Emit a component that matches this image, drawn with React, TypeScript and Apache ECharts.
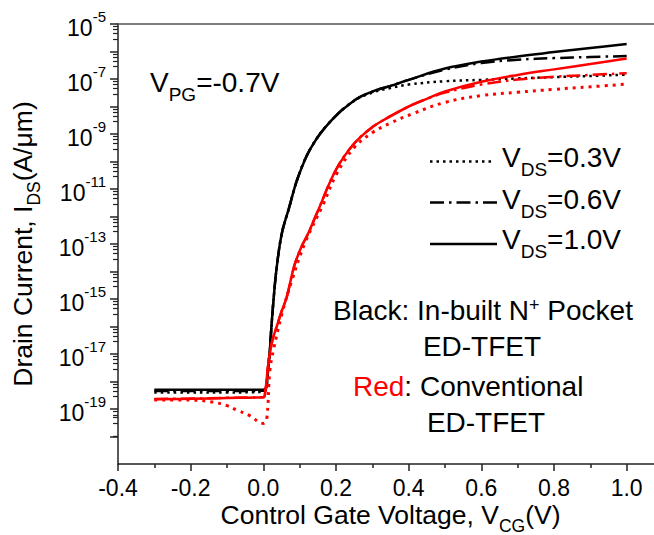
import React, { useEffect, useRef } from 'react';
import * as echarts from 'echarts';

// Control gate voltage (V) grid for the in-built N+ pocket ED-TFET (black)
const blackV = [-0.3, -0.2, -0.1, 0.0, 0.008, 0.014, 0.018, 0.021, 0.028, 0.037, 0.051, 0.07, 0.096, 0.133, 0.188, 0.25, 0.3, 0.35, 0.4, 0.5, 0.6, 0.7, 0.8, 0.9, 1.0];
const blackI10 = [5.0e-19, 5.0e-19, 5.0e-19, 5.0e-19, 6.3e-19, 4.0e-18, 1.41e-17, 5.6e-17, 9.1e-16, 1.48e-14, 2.45e-13, 1.9e-12, 2.8e-11, 3.5e-10, 3.2e-9, 1.66e-8, 3.5e-8, 5.6e-8, 9.3e-8, 2.4e-7, 4.3e-7, 6.6e-7, 9.5e-7, 1.35e-6, 1.86e-6];
const blackI06 = [4.5e-19, 4.5e-19, 4.5e-19, 4.6e-19, 6.0e-19, 4.0e-18, 1.41e-17, 5.6e-17, 9.1e-16, 1.48e-14, 2.45e-13, 1.9e-12, 2.8e-11, 3.5e-10, 3.2e-9, 1.66e-8, 3.5e-8, 5.6e-8, 9.3e-8, 2.2e-7, 3.8e-7, 5.0e-7, 5.75e-7, 6.3e-7, 6.8e-7];
const blackI03 = [4.0e-19, 4.0e-19, 4.0e-19, 4.2e-19, 5.6e-19, 4.0e-18, 1.41e-17, 5.6e-17, 9.1e-16, 1.48e-14, 2.45e-13, 1.9e-12, 2.8e-11, 3.5e-10, 3.2e-9, 1.6e-8, 3.2e-8, 4.7e-8, 6.3e-8, 8.3e-8, 9.3e-8, 1.05e-7, 1.17e-7, 1.29e-7, 1.45e-7];

// Conventional ED-TFET (red)
const redV = [-0.3, -0.2, -0.1, 0.0, 0.005, 0.014, 0.025, 0.037, 0.05, 0.064, 0.085, 0.105, 0.124, 0.15, 0.2, 0.25, 0.3, 0.344, 0.4, 0.45, 0.5, 0.6, 0.7, 0.8, 0.9, 1.0];
const redI10 = [2.24e-19, 2.34e-19, 2.5e-19, 2.7e-19, 4.0e-19, 4.6e-18, 3.2e-17, 1.0e-16, 3.5e-16, 1.12e-15, 1.58e-14, 7.9e-14, 2.5e-13, 1.58e-12, 5.0e-11, 4.5e-10, 1.78e-9, 4.0e-9, 1.0e-8, 1.9e-8, 3.5e-8, 7.9e-8, 1.41e-7, 2.24e-7, 3.5e-7, 5.6e-7];
const redI06 = [2.3e-19, 2.4e-19, 2.55e-19, 2.7e-19, 4.0e-19, 4.6e-18, 3.2e-17, 1.0e-16, 3.5e-16, 1.12e-15, 1.58e-14, 7.9e-14, 2.5e-13, 1.58e-12, 5.0e-11, 4.5e-10, 1.78e-9, 4.0e-9, 1.0e-8, 1.9e-8, 3.2e-8, 6.3e-8, 9.5e-8, 1.2e-7, 1.41e-7, 1.62e-7];
const redV03 = [-0.3, -0.2, -0.147, -0.1, -0.073, -0.04, 0.0, 0.009, 0.018, 0.028, 0.051, 0.078, 0.115, 0.165, 0.2, 0.25, 0.3, 0.35, 0.413, 0.5, 0.6, 0.7, 0.8, 0.9, 1.0];
const redI03 = [2.14e-19, 2.1e-19, 1.86e-19, 1.32e-19, 9.1e-20, 6.0e-20, 3.0e-20, 4.0e-20, 2.5e-18, 1.41e-17, 2.8e-16, 4.5e-15, 1.12e-13, 2.8e-12, 3.2e-11, 3.2e-10, 1.12e-9, 2.5e-9, 5.6e-9, 1.41e-8, 2.5e-8, 3.3e-8, 4.2e-8, 5.2e-8, 6.5e-8];

const xTicks = { min: -0.4, max: 1.1, interval: 0.2 };
const yRange = { min: 1e-21, max: 1e-5 };
const legendLabels = ['0.3V', '0.6V', '1.0V'];

const FONT = '"Liberation Sans", Arial, Helvetica, sans-serif';
const DOT_B = [2.5, 4];
const DOT_R = [3, 5];
const DASHDOT = [14, 5, 2.5, 5];

export default function App() {
  const ref = useRef<HTMLDivElement>(null);
  useEffect(() => {
    document.body.style.margin = '0';
    const chart = echarts.init(ref.current as HTMLDivElement, null, { renderer: 'svg' });
    const pairs = (xs: number[], ys: number[]) => xs.map((x, i) => [x, ys[i]]);
    const mk = (name: string, xs: number[], ys: number[], color: string, type: any, width: number, z: number) => ({
      name,
      type: 'line',
      data: pairs(xs, ys),
      showSymbol: false,
      symbol: 'none',
      smooth: 0.4,
      lineStyle: { color, width, type },
      z,
    });
    const mainRich = {
      m: { fontSize: 28, lineHeight: 36, verticalAlign: 'top', fontFamily: FONT, fill: '#000' },
      s: { fontSize: 19, lineHeight: 19, verticalAlign: 'bottom', fontFamily: FONT, fill: '#000' },
      p: { fontSize: 18, lineHeight: 26, verticalAlign: 'top', fontFamily: FONT, fill: '#000' },
      r: { fontSize: 28, lineHeight: 36, verticalAlign: 'top', fontFamily: FONT, fill: '#ff0000' },
    };
    const txt = (x: number, y: number, text: string, align: string) => ({
      type: 'text',
      x,
      y,
      style: { text, rich: mainRich, align, verticalAlign: 'middle', font: `28px ${FONT}` },
    });
    const legLine = (y: number, x2: number, dash: any) => ({
      type: 'line',
      shape: { x1: 430, y1: y, x2, y2: y },
      style: { stroke: '#000', lineWidth: 2.5, lineDash: dash },
    });
    const nameRich = {
      m: { fontSize: 26.5, lineHeight: 34, verticalAlign: 'top', fontFamily: FONT, color: '#000' },
      s: { fontSize: 17.5, lineHeight: 17.5, verticalAlign: 'bottom', fontFamily: FONT, color: '#000' },
    };
    chart.setOption({
      animation: false,
      backgroundColor: '#fff',
      grid: { left: 118, top: 24, width: 545, height: 440, containLabel: false, outerBoundsMode: 'none' },
      xAxis: [
        {
          type: 'value',
          min: xTicks.min,
          max: xTicks.max,
          interval: xTicks.interval,
          name: '{m|Control Gate Voltage, V}{s|CG}{m|(V)}',
          nameLocation: 'middle',
          nameGap: 37,
          nameMoveOverlap: false,
          nameTextStyle: { rich: nameRich },
          axisLine: { show: true, onZero: false, lineStyle: { color: '#222', width: 1.5 } },
          axisTick: { show: true, inside: false, length: 7, lineStyle: { color: '#222', width: 1.5 } },
          minorTick: { show: true, splitNumber: 2, length: 4, lineStyle: { color: '#222', width: 1.5 } },
          axisLabel: {
            margin: 12,
            fontSize: 23,
            fontFamily: FONT,
            color: '#000',
            showMaxLabel: false,
            formatter: (v: number) => v.toFixed(1),
          },
          splitLine: { show: false },
        },
        {
          type: 'value',
          position: 'top',
          min: xTicks.min,
          max: xTicks.max,
          axisLine: { show: true, onZero: false, lineStyle: { color: '#555', width: 1.5 } },
          axisTick: { show: false },
          axisLabel: { show: false },
          splitLine: { show: false },
        },
      ],
      yAxis: {
        type: 'log',
        logBase: 10,
        min: yRange.min,
        max: yRange.max,
        interval: 1,
        name: '{m|Drain Current, I}{s|DS}{m|(A/μm)}',
        nameLocation: 'middle',
        nameGap: 75,
        nameMoveOverlap: false,
        nameTextStyle: { rich: nameRich },
        axisLine: { show: true, onZero: false, lineStyle: { color: '#222', width: 1.5 } },
        axisTick: { show: true, inside: false, length: 8, lineStyle: { color: '#222', width: 1.5 } },
        minorTick: { show: true, splitNumber: 5, length: 5, lineStyle: { color: '#222', width: 1.2 } },
        axisLabel: {
          margin: 12,
          formatter: (v: number) => {
            const e = Math.round(Math.log10(v));
            if (e % 2 === 0) return '';
            return `{b|10}{s|${e}}`;
          },
          rich: {
            b: { fontSize: 23, lineHeight: 30, verticalAlign: 'bottom', fontFamily: FONT, color: '#000' },
            s: { fontSize: 15, lineHeight: 18, verticalAlign: 'top', fontFamily: FONT, color: '#000' },
          },
        },
        splitLine: { show: false },
      },
      series: [
        mk('Black VDS=0.3V', blackV, blackI03, '#000', DOT_B, 2.5, 3),
        mk('Black VDS=0.6V', blackV, blackI06, '#000', DASHDOT, 2.5, 3),
        mk('Black VDS=1.0V', blackV, blackI10, '#000', 'solid', 2.5, 3),
        mk('Red VDS=0.3V', redV03, redI03, '#ff0000', DOT_R, 3, 4),
        mk('Red VDS=0.6V', redV, redI06, '#ff0000', DASHDOT, 2.5, 4),
        mk('Red VDS=1.0V', redV, redI10, '#ff0000', 'solid', 2.5, 5),
      ],
      graphic: [
        txt(150, 86, '{m|V}{s|PG}{m|=-0.7V}', 'left'),
        legLine(161.5, 493, DOT_B),
        legLine(202.5, 497, DASHDOT),
        legLine(244, 497, null),
        txt(502, 161, `{m|V}{s|DS}{m|=${legendLabels[0]}}`, 'left'),
        txt(502, 203, `{m|V}{s|DS}{m|=${legendLabels[1]}}`, 'left'),
        txt(502, 243, `{m|V}{s|DS}{m|=${legendLabels[2]}}`, 'left'),
        txt(333, 314, '{m|Black: In-built N}{p|+}{m| Pocket}', 'left'),
        txt(482, 350, '{m|ED-TFET}', 'center'),
        txt(353, 390, '{r|Red}{m|: Conventional}', 'left'),
        txt(486, 426, '{m|ED-TFET}', 'center'),
      ],
    });
    return () => chart.dispose();
  }, []);
  return <div ref={ref} style={{ width: 654, height: 535 }} />;
}
